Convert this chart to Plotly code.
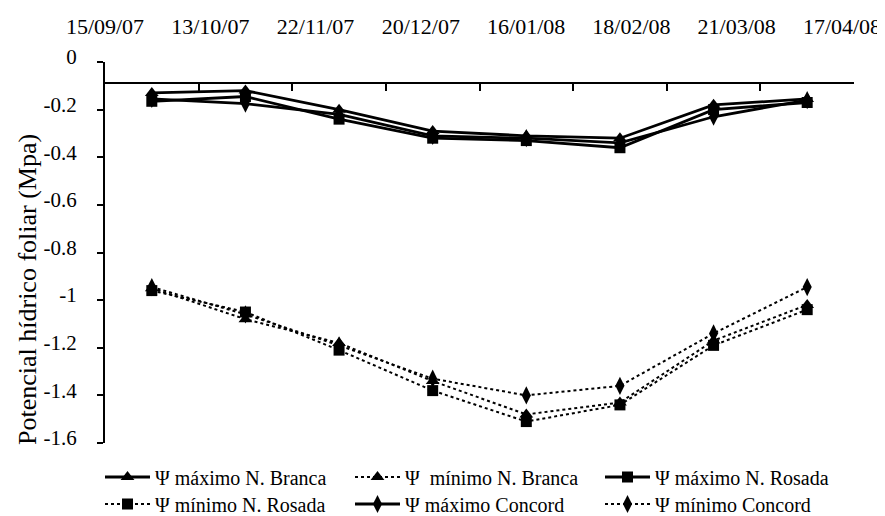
import plotly.graph_objects as go

# ---------------- data ----------------
dates = ["15/09/07", "13/10/07", "22/11/07", "20/12/07",
         "16/01/08", "18/02/08", "21/03/08", "17/04/08"]

max_branca = [-0.13, -0.12, -0.20, -0.29, -0.31, -0.32, -0.18, -0.155]
min_branca = [-0.95, -1.08, -1.18, -1.34, -1.48, -1.43, -1.17, -1.02]
max_rosada = [-0.165, -0.145, -0.24, -0.32, -0.33, -0.36, -0.20, -0.17]
min_rosada = [-0.96, -1.05, -1.21, -1.38, -1.51, -1.44, -1.19, -1.04]
max_concord = [-0.155, -0.175, -0.22, -0.31, -0.32, -0.34, -0.23, -0.16]
min_concord = [-0.945, -1.06, -1.19, -1.33, -1.40, -1.36, -1.14, -0.945]

y_tickvals = [0, -0.2, -0.4, -0.6, -0.8, -1.0, -1.2, -1.4, -1.6]
y_ticktext = ["0", "-0.2", "-0.4", "-0.6", "-0.8", "-1", "-1.2", "-1.4", "-1.6"]
y_range = [-1.6, 0]
x_cross = -0.09  # value where the horizontal axis line crosses

FONT = "Liberation Serif"
W, H = 885, 516
OFF = 8  # page body margin offset
ML, MR, MT, MB = 105 - OFF, 31 + OFF, 62 - OFF, 73 + OFF
PW, PH = W - ML - MR, H - MT - MB

series = [
    ("Ψ máximo N. Branca", max_branca, "triangle-up", 12, "solid", "legend"),
    ("Ψ  mínimo N. Branca", min_branca, "triangle-up", 12, "dot", "legend"),
    ("Ψ máximo N. Rosada", max_rosada, "square", 11, "solid", "legend"),
    ("Ψ mínimo N. Rosada", min_rosada, "square", 11, "dot", "legend2"),
    ("Ψ máximo Concord", max_concord, "diamond-tall", 13, "solid", "legend2"),
    ("Ψ mínimo Concord", min_concord, "diamond-tall", 13, "dot", "legend2"),
]

fig = go.Figure()
for name, vals, sym, size, dash, leg in series:
    fig.add_trace(go.Scatter(
        x=dates, y=vals, name=name, mode="lines+markers",
        line=dict(color="black", width=2.8 if dash == "solid" else 2, dash=dash),
        marker=dict(symbol=sym, size=size, color="black"),
        legend=leg,
    ))
# empty trace so the label axis (x2) is drawn
fig.add_trace(go.Scatter(x=[], y=[], xaxis="x2", showlegend=False,
                         hoverinfo="skip"))

pos = 1 - (0 - x_cross) / (y_range[1] - y_range[0])

fig.update_layout(
    width=W, height=H,
    margin=dict(l=ML, r=MR, t=MT, b=MB),
    paper_bgcolor="white", plot_bgcolor="white",
    font=dict(family=FONT, color="black"),
    xaxis=dict(
        type="category", range=[-0.5, len(dates) - 0.5],
        side="top", anchor="free", position=pos, automargin=False,
        showline=True, linecolor="black", linewidth=2,
        ticks="inside", ticklen=7, tickwidth=2, tickcolor="black",
        tickson="boundaries", showticklabels=False, showgrid=False,
        zeroline=False,
    ),
    xaxis2=dict(
        overlaying="x", side="top", anchor="y", automargin=False,
        range=[0, 7.114], tickmode="array",
        tickvals=list(range(len(dates))), ticktext=dates,
        showline=False, ticks="", showgrid=False, zeroline=False,
        tickfont=dict(family=FONT, size=22, color="black"),
        ticklabelstandoff=23,
    ),
    yaxis=dict(
        range=y_range, tickvals=y_tickvals, ticktext=y_ticktext,
        automargin=False,
        showline=True, linecolor="black", linewidth=2,
        ticks="outside", ticklen=6, tickwidth=2, tickcolor="black",
        showgrid=False, zeroline=False,
        tickfont=dict(family=FONT, size=21, color="black"),
        ticklabelstandoff=16, ticklabelshift=-5,
    ),
    legend=dict(
        orientation="h", xref="container", yref="container",
        x=(100 - OFF) / W, y=1 - (477 - OFF) / H,
        xanchor="left", yanchor="middle",
        entrywidth=190, itemwidth=45, bgcolor="rgba(0,0,0,0)",
        font=dict(family=FONT, size=20, color="black"),
    ),
    legend2=dict(
        orientation="h", xref="container", yref="container",
        x=(100 - OFF) / W, y=1 - (504 - OFF) / H,
        xanchor="left", yanchor="middle",
        entrywidth=190, itemwidth=45, bgcolor="rgba(0,0,0,0)",
        font=dict(family=FONT, size=20, color="black"),
    ),
    annotations=[dict(
        text="Potencial hídrico foliar (Mpa)", textangle=-90,
        xref="paper", yref="paper",
        x=(19 - ML) / PW, y=(H - MB - 282) / PH,
        xanchor="center", yanchor="middle", showarrow=False,
        font=dict(family=FONT, size=26, color="black"),
    )],
)

fig.write_html("out.html", config={"displayModeBar": False})
